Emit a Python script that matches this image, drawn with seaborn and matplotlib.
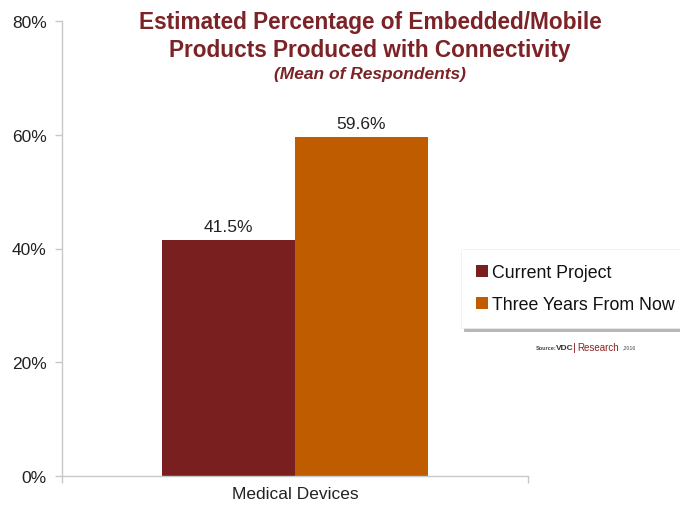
import matplotlib
matplotlib.use("Agg")
import matplotlib.pyplot as plt
import seaborn as sns
import pandas as pd
from matplotlib.patches import Patch
from matplotlib.ticker import FixedLocator, PercentFormatter

categories = ["Medical Devices"]
series = ["Current Project", "Three Years From Now"]
values = [41.5, 59.6]
value_labels = ["41.5%", "59.6%"]
yticks = [0, 20, 40, 60, 80]

colors = ["#7A1F1F", "#C05C00"]
title_color = "#7B2326"

df = pd.DataFrame({"category": categories * len(series), "series": series, "value": values})

sns.set_theme(style="white")
plt.rcParams["font.family"] = ["Liberation Sans", "DejaVu Sans"]

fig = plt.figure(figsize=(6.8, 5.06), dpi=100)
ax = fig.add_axes([62 / 680, 29 / 506, 466 / 680, 455 / 506])

sns.barplot(data=df, x="category", y="value", hue="series", palette=colors,
            width=0.57, saturation=1, ax=ax, legend=False, linewidth=0)

for cont, lab in zip(ax.containers, value_labels):
    ax.bar_label(cont, labels=[lab], padding=4, fontsize=12.5, color="#222222")

ax.set_xlim(-0.5, 0.5)
ax.set_ylim(0, 80)
ax.set_yticks(yticks)
ax.yaxis.set_major_formatter(PercentFormatter(decimals=0))
ax.set_xlabel("")
ax.set_ylabel("")

for s in ["top", "right"]:
    ax.spines[s].set_visible(False)
for s in ["left", "bottom"]:
    ax.spines[s].set_color("#C8C8C8")
    ax.spines[s].set_linewidth(1.0)

ax.tick_params(axis="y", left=True, length=5, width=1, color="#C8C8C8",
               labelsize=12.5, labelcolor="#222222", pad=6)
ax.tick_params(axis="x", which="major", bottom=False, length=0, labelsize=12.5,
               labelcolor="#222222", pad=7)
ax.xaxis.set_minor_locator(FixedLocator([-0.5, 0.5]))
ax.tick_params(axis="x", which="minor", bottom=True, length=5, width=1, color="#C8C8C8")

fig.text(370 / 680, 1 - 22 / 506, "Estimated Percentage of Embedded/Mobile",
         ha="center", va="center", fontsize=16.3, fontweight="bold", color=title_color)
fig.text(370 / 680, 1 - 50 / 506, "Products Produced with Connectivity",
         ha="center", va="center", fontsize=16.3, fontweight="bold", color=title_color)
fig.text(370 / 680, 1 - 75 / 506, "(Mean of Respondents)",
         ha="center", va="center", fontsize=12.5, fontweight="bold", style="italic",
         color=title_color)

handles = [Patch(facecolor=c, edgecolor="none") for c in colors]
leg = fig.legend(handles, series, loc="upper left",
                 bbox_to_anchor=(461 / 680, 1 - 250 / 506), fontsize=12.8,
                 frameon=True, fancybox=False, shadow={"color": "#888888", "alpha": 0.6},
                 handlelength=0.68, handleheight=0.68, handletextpad=0.2,
                 labelspacing=0.85, borderpad=0.85, borderaxespad=0)
leg.get_frame().set_edgecolor("#EEEEEE")
leg.get_frame().set_linewidth(0.5)
for t in leg.get_texts():
    t.set_color("#111111")

y_src = 1 - 348 / 506
fig.text(536 / 680, y_src, "Source:", fontsize=4, fontweight="bold",
         color="#444444", va="center", ha="left")
fig.text(556 / 680, y_src, "VDC", fontsize=6, fontweight="bold",
         color="#333333", va="center", ha="left")
fig.text(573 / 680, y_src, "|", fontsize=8, color="#8B2020", va="center", ha="left")
fig.text(577 / 680, y_src, "Research", fontsize=7,
         color="#8B2020", va="center", ha="left")
fig.text(623 / 680, y_src, ",2016", fontsize=3.8,
         color="#444444", va="center", ha="left")

fig.savefig("out.png", dpi=100, facecolor="white")
